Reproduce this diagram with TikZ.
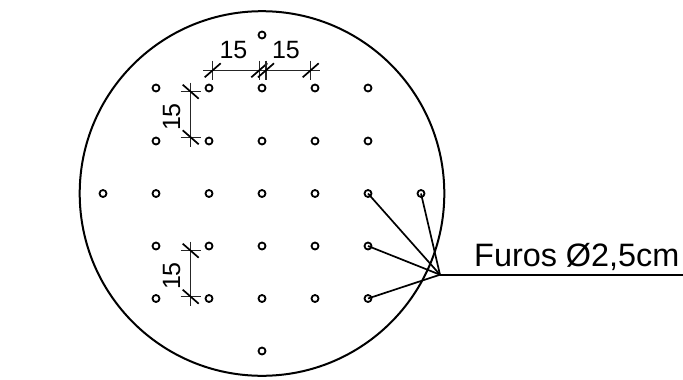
\documentclass[tikz,border=0pt]{standalone}
\usepackage{fontspec}
\setmainfont{Liberation Sans}
\tikzset{
  hole/.style={circle,draw=black,fill=white,line width=1.8pt,minimum size=7pt,inner sep=0pt},
  plate/.style={draw=black,line width=2pt},
  leader/.style={draw=black,line width=1.7pt},
  dimline/.style={draw=black!85,line width=1.1pt},
  slash/.style={draw=black,line width=1.7pt},
  dimtext/.style={inner sep=0pt,anchor=base,font=\fontsize{25}{25}\selectfont},
  calltext/.style={inner sep=0pt,anchor=base west,font=\fontsize{32.4}{32}\selectfont}
}
\newcommand{\hslash}[1]{\draw[slash] ($(#1)+(-8,7)$) -- ($(#1)+(8,-7)$);}
\newcommand{\vslash}[1]{\draw[slash] ($(#1)+(-8,-7)$) -- ($(#1)+(8,7)$);}
\usetikzlibrary{calc}
\begin{document}
\begin{tikzpicture}[x=1pt,y=-1pt]
\useasboundingbox (0,0) rectangle (683,380);
\draw[plate] (262,193.5) circle[radius=182.3];
% top dimension
\coordinate (a1) at (203,70.3); \coordinate (a2) at (320,70.3);
\draw[dimline] (a1) -- (a2);
\foreach \n/\x in {t1/212.7,t2/259.3,t3/266,t4/310.7}{
  \coordinate (\n) at (\x,70.3);
  \draw[dimline,line width=1.4pt] (\x,60.7) -- (\x,80);
  \hslash{\n}
}
% upper left dimension
\coordinate (b1) at (190.7,82.7); \coordinate (b2) at (190.7,146.7);
\draw[dimline] (b1) -- (b2);
\foreach \n/\y in {u1/91.7,u2/137.3}{
  \coordinate (\n) at (190.7,\y);
  \draw[dimline,line width=1.4pt] (180.7,\y) -- (201,\y);
  \vslash{\n}
}
% lower left dimension
\coordinate (c1) at (190.7,241.7); \coordinate (c2) at (190.7,306);
\draw[dimline] (c1) -- (c2);
\foreach \n/\y in {v1/250.7,v2/296.7}{
  \coordinate (\n) at (190.7,\y);
  \draw[dimline,line width=1.4pt] (180.7,\y) -- (201,\y);
  \vslash{\n}
}
\node[dimtext] (d1) at (233.5,58) {15};
\node[dimtext] (d2) at (286,58) {15};
\node[dimtext,rotate=90] (d3) at (180,117) {15};
\node[dimtext,rotate=90] (d4) at (180,276) {15};
% leaders
\coordinate (lead) at (440,274.7);
\coordinate (leadend) at (683,274.7);
% holes
\foreach \n/\x/\y in {
  h01/262/35,
  h11/156/88,h12/209/88,h13/262/88,h14/315/88,h15/368/88,
  h21/156/141,h22/209/141,h23/262/141,h24/315/141,h25/368/141,
  h30/103/193.5,h31/156/193.5,h32/209/193.5,h33/262/193.5,h34/315/193.5,h35/368/193.5,h36/421/193.5,
  h41/156/246,h42/209/246,h43/262/246,h44/315/246,h45/368/246,
  h51/156/298.5,h52/209/298.5,h53/262/298.5,h54/315/298.5,h55/368/298.5,
  h61/262/351}{
  \node[hole] (\n) at (\x,\y) {};
}
\draw[leader] (h35.center) -- (lead);
\draw[leader] (h36.center) -- (lead);
\draw[leader] (h45.center) -- (lead);
\draw[leader] (h55.center) -- (lead);
\draw[leader] (lead) -- (leadend);
\node[calltext] (label) at (474,266.7) {Furos Ø2,5cm};
\end{tikzpicture}
\end{document}
